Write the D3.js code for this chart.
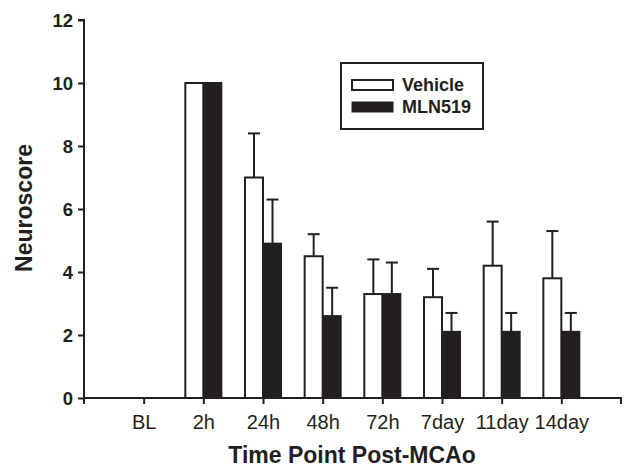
<!DOCTYPE html>
<html>
<head>
<meta charset="utf-8">
<script src="https://d3js.org/d3.v7.min.js"></script>
<style>
  body { margin: 0; background: #fff; }
  text { font-family: "Liberation Sans", Arial, sans-serif; fill: #231f20; }
</style>
</head>
<body>
<script>
// data
const timePoints = ['BL', '2h', '24h', '48h', '72h', '7day', '11day', '14day'];
const vehicleMean = [0, 10, 7.0, 4.5, 3.3, 3.2, 4.2, 3.8];
const vehicleErr  = [0, 0, 1.4, 0.7, 1.1, 0.9, 1.4, 1.5];
const mlnMean     = [0, 10, 4.9, 2.6, 3.3, 2.1, 2.1, 2.1];
const mlnErr      = [0, 0, 1.4, 0.9, 1.0, 0.6, 0.6, 0.6];
const yTicks = [0, 2, 4, 6, 8, 10, 12];
const seriesNames = ['Vehicle', 'MLN519'];

const ink = '#231f20';
const W = 626, H = 467;
const plotL = 84, plotR = 621, plotT = 20, plotB = 398;

const svg = d3.select('body')
  .append('svg')
  .attr('width', W)
  .attr('height', H);

const x = d3.scalePoint()
  .domain(timePoints)
  .range([plotL, plotR])
  .padding(1);

const y = d3.scaleLinear()
  .domain([0, 12])
  .range([plotB, plotT]);

const barW = 18;

const groups = timePoints.map((t, i) => ({
  t, v: vehicleMean[i], ve: vehicleErr[i], m: mlnMean[i], me: mlnErr[i]
})).filter(d => d.v > 0 || d.m > 0);

// error bars (upper only)
function errBar(cx, mean, err) {
  if (err <= 0) return;
  svg.append('line')
    .attr('x1', cx).attr('x2', cx)
    .attr('y1', y(mean)).attr('y2', y(mean + err))
    .attr('stroke', ink).attr('stroke-width', 2);
  svg.append('line')
    .attr('x1', cx - 6).attr('x2', cx + 6)
    .attr('y1', y(mean + err)).attr('y2', y(mean + err))
    .attr('stroke', ink).attr('stroke-width', 2);
}

groups.forEach(d => {
  errBar(x(d.t) - barW / 2, d.v, d.ve);
  errBar(x(d.t) + barW / 2 + 0.5, d.m, d.me);
});

// vehicle (open) left of tick, MLN519 (filled) right of tick
svg.selectAll('rect.veh')
  .data(groups)
  .join('rect')
  .attr('class', 'veh')
  .attr('x', d => x(d.t) - barW)
  .attr('y', d => y(d.v))
  .attr('width', barW)
  .attr('height', d => plotB - y(d.v))
  .attr('fill', '#fff')
  .attr('stroke', ink)
  .attr('stroke-width', 2);

svg.selectAll('rect.mln')
  .data(groups)
  .join('rect')
  .attr('class', 'mln')
  .attr('x', d => x(d.t))
  .attr('y', d => y(d.m) - 1)
  .attr('width', barW + 1)
  .attr('height', d => plotB - y(d.m) + 1)
  .attr('fill', ink);

// y axis
const yAxis = svg.append('g')
  .attr('transform', `translate(${plotL},0)`)
  .call(d3.axisLeft(y).tickValues(yTicks).tickSize(6).tickPadding(5).tickFormat(d3.format('d')));
yAxis.select('.domain').attr('stroke', ink).attr('stroke-width', 2).attr('d', `M-6,${plotT}H0V${plotB}`);
yAxis.selectAll('.tick line').attr('stroke', ink).attr('stroke-width', 2);
yAxis.selectAll('.tick text')
  .style('font-size', '18.5px').style('font-weight', 'bold')
  .attr('fill', ink).attr('dy', '0.36em');

// x axis
const xAxis = svg.append('g')
  .attr('transform', `translate(0,${plotB})`)
  .call(d3.axisBottom(x).tickSize(6).tickPadding(11));
xAxis.select('.domain').attr('stroke', ink).attr('stroke-width', 2)
  .attr('d', `M${plotL},6V0H${plotR}V6`);
xAxis.selectAll('.tick line').attr('stroke', ink).attr('stroke-width', 2);
xAxis.selectAll('.tick text')
  .style('font-size', '20px')
  .attr('fill', ink);

// axis titles
svg.append('text')
  .attr('transform', `translate(32,208) rotate(-90)`)
  .attr('text-anchor', 'middle')
  .style('font-size', '23px')
  .style('font-weight', 'bold')
  .text('Neuroscore');

svg.append('text')
  .attr('x', 352)
  .attr('y', 463)
  .attr('text-anchor', 'middle')
  .style('font-size', '23px')
  .style('font-weight', 'bold')
  .text('Time Point Post-MCAo');

// legend
const legend = svg.append('g').attr('transform', 'translate(341,63)');
legend.append('rect')
  .attr('width', 142).attr('height', 66)
  .attr('fill', '#fff').attr('stroke', ink).attr('stroke-width', 2);

const items = legend.selectAll('g.item')
  .data(seriesNames)
  .join('g')
  .attr('class', 'item')
  .attr('transform', (d, i) => `translate(11,${17 + i * 22})`);

items.append('rect')
  .attr('width', 41).attr('height', 10)
  .attr('fill', (d, i) => i === 0 ? '#fff' : ink)
  .attr('stroke', ink).attr('stroke-width', (d, i) => i === 0 ? 2 : 1);

items.append('text')
  .attr('x', 50).attr('y', 11)
  .style('font-size', '18px')
  .style('font-weight', 'bold')
  .text(d => d);
</script>
</body>
</html>
